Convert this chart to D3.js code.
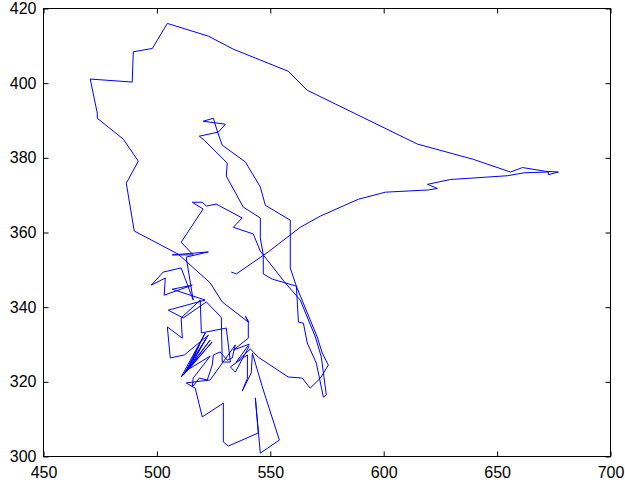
<!DOCTYPE html>
<html>
<head>
<meta charset="utf-8">
<script src="https://cdn.jsdelivr.net/npm/d3@7"></script>
<style>
  body { margin: 0; background: #fff; }
  svg { display: block; }
  .tick text { font-family: "Liberation Sans", Arial, sans-serif; font-size: 16px; fill: #000; }
</style>
</head>
<body>
<script>
"use strict";

//Track data (x, y pairs in plot order)
var xVals = [
  532.8, 535.0, 549.1, 563.2, 572.1, 588.8, 600.7, 619.7, 623.7, 619.3,
  629.4, 654.5, 662.0, 672.6, 672.6, 677.0, 671.3, 661.2, 655.9, 639.5,
  614.8, 566.3, 557.9, 533.7, 522.7, 504.6, 498.0, 489.6, 489.1, 470.6,
  473.7, 473.7, 485.2, 491.8, 486.5, 490.0,
  509.4, 523.5, 528.8, 540.3, 539.0, 540.3, 540.3, 533.7, 540.7, 535.0,
  541.2, 544.7, 557.9, 564.1, 567.6, 572.1, 575.6, 572.9, 570.7, 561.5,
  556.6, 550.9, 546.9, 546.9, 545.6, 545.6, 538.1, 530.6, 531.0, 520.9,
  518.7, 527.1, 530.2, 520.4, 524.9, 526.6, 528.8, 539.0, 545.6, 547.8,
  558.8, 558.8, 561.5, 562.4, 564.6, 566.3, 570.3, 573.4, 574.7, 572.5,
  569.9, 563.2, 556.6, 545.6, 542.5, 533.7, 537.6, 526.2, 521.8, 520.0,
  515.6, 520.4, 510.7, 516.0,
  506.8, 522.7, 512.9, 516.0, 510.7, 502.8, 497.5, 503.7, 503.2, 515.6,
  506.8, 521.3, 505.0, 511.6, 521.8, 528.4, 528.8, 532.4, 530.6, 519.6,
  519.1, 510.7, 511.2, 504.6, 505.9, 512.1, 522.7, 511.6, 523.5, 512.9,
  521.3, 510.7, 524.4, 513.8, 518.7, 512.1, 521.8, 514.3, 523.5, 516.0,
  515.6, 518.7, 522.2, 524.4, 524.9, 527.9, 531.0, 533.2, 534.6, 523.5,
  512.9, 516.9, 520.0, 529.3, 529.3, 531.5, 544.7, 543.4, 545.6, 554.0,
  546.5, 542.1, 541.6, 537.6, 539.9, 539.9, 532.4, 534.6, 540.7
];
var yVals = [
  349.4, 348.9, 354.8, 361.4, 364.4, 368.9, 370.8, 371.4, 371.8, 372.9,
  374.2, 375.2, 376.0, 376.2, 375.5, 376.2, 376.4, 377.4, 376.2, 379.6,
  383.7, 398.1, 403.2, 409.1, 412.6, 416.0, 409.3, 408.4, 400.3, 401.1,
  392.0, 390.6, 385.0, 379.1, 373.2, 360.4,
  354.2, 346.5, 341.4, 336.0, 337.6, 336.3, 331.7, 328.5, 330.1, 325.3,
  328.8, 326.6, 321.3, 321.0, 318.3, 321.0, 324.5, 327.7, 332.0, 345.6,
  346.5, 347.5, 348.9, 354.0, 358.5, 363.9, 366.8, 375.1, 378.6, 384.7,
  385.8, 386.9, 389.0, 389.8, 390.6, 387.2, 383.4, 378.9, 372.2, 367.3,
  363.3, 350.5, 345.6, 336.0, 335.7, 330.4, 325.0, 315.9, 316.5, 326.6,
  332.0, 341.9, 346.5, 355.0, 359.6, 361.4, 363.9, 367.6, 367.1, 368.1,
  368.1, 366.3, 357.4, 354.0,
  354.0, 354.8, 353.4, 341.9, 350.5, 349.4, 345.9, 347.8, 343.2, 345.9,
  344.8, 341.9, 339.2, 337.1, 341.4, 337.3, 325.3, 325.3, 334.4, 333.1,
  341.9, 337.1, 331.7, 334.7, 326.4, 327.2, 332.5, 321.8, 331.2, 322.6,
  333.1, 321.3, 330.7, 323.2, 329.9, 322.1, 331.7, 323.5, 326.9, 321.0,
  318.6, 321.0, 320.5, 324.5, 327.2, 328.0, 325.8, 326.4, 329.9, 320.5,
  319.7, 318.3, 310.6, 314.3, 303.9, 302.8, 306.3, 315.7, 300.9, 304.4,
  318.6, 327.7, 322.4, 317.5, 321.0, 327.2, 324.0, 322.6, 329.6
];

//Axis limits and tick labels
var xDomain = [450, 700];
var yDomain = [300, 420];
var xTicks = [450, 500, 550, 600, 650, 700];
var yTicks = [300, 320, 340, 360, 380, 400, 420];

//Page and plot box
var width = 625;
var height = 486;
var boxLeft = 43.5, boxRight = 610.5, boxTop = 8.5, boxBottom = 456.5;

var svg = d3.select("body").append("svg")
  .attr("width", width)
  .attr("height", height);

var x = d3.scaleLinear().domain(xDomain).range([boxLeft, boxRight]);
var y = d3.scaleLinear().domain(yDomain).range([boxBottom, boxTop]);

//Ticks point inward on all four sides, labels only bottom and left
function drawAxes () {
  svg.append("g")
    .attr("transform", "translate(0," + boxBottom + ")")
    .call(d3.axisBottom(x).tickValues(xTicks).tickSize(-5).tickSizeOuter(0).tickPadding(10));
  svg.append("g")
    .attr("transform", "translate(" + boxLeft + ",0)")
    .call(d3.axisLeft(y).tickValues(yTicks).tickSize(-5).tickSizeOuter(0).tickPadding(7));
  svg.append("g")
    .attr("transform", "translate(0," + boxTop + ")")
    .call(d3.axisTop(x).tickValues(xTicks).tickSize(-5).tickSizeOuter(0).tickFormat(""));
  svg.append("g")
    .attr("transform", "translate(" + boxRight + ",0)")
    .call(d3.axisRight(y).tickValues(yTicks).tickSize(-5).tickSizeOuter(0).tickFormat(""));

  svg.selectAll(".domain").remove();
  svg.selectAll(".tick line").attr("stroke", "#000");

  svg.append("rect")
    .attr("x", boxLeft)
    .attr("y", boxTop)
    .attr("width", boxRight - boxLeft)
    .attr("height", boxBottom - boxTop)
    .attr("fill", "none")
    .attr("stroke", "#000")
    .attr("stroke-width", 1);
}

//The track itself
function drawTrack () {
  var pts = d3.zip(xVals, yVals);
  var line = d3.line()
    .x(function(d) { return x(d[0]); })
    .y(function(d) { return y(d[1]); });
  svg.append("path")
    .datum(pts)
    .attr("d", line)
    .attr("fill", "none")
    .attr("stroke", "#0000ff")
    .attr("stroke-width", 1)
    .attr("stroke-linejoin", "round");
}

drawTrack();
drawAxes();
</script>
</body>
</html>
